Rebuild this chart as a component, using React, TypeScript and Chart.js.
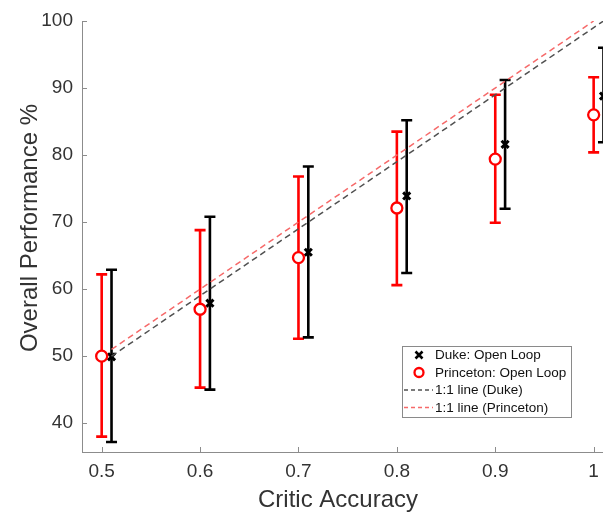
import React, { useEffect, useRef } from "react";
import { Chart, registerables } from "chart.js";

Chart.register(...registerables);

// ---- data ----
const criticAccuracy = [0.5, 0.6, 0.7, 0.8, 0.9, 1.0];
const dukeX = [0.51, 0.61, 0.71, 0.81, 0.91, 1.01];
const dukeMean = [49.9, 57.9, 65.5, 73.9, 81.6, 88.8];
const dukeLow = [37.2, 45.0, 52.8, 62.4, 72.0, 81.9];
const dukeHigh = [62.9, 70.8, 78.3, 85.2, 91.2, 96.0];
const princetonMean = [50.0, 57.0, 64.7, 72.1, 79.4, 86.0];
const princetonLow = [38.0, 45.3, 52.6, 60.6, 69.9, 80.4];
const princetonHigh = [62.2, 68.8, 76.8, 83.5, 89.0, 91.6];
const dukeLineX = [0.51, 1.01];
const dukeLineY = [50, 100];
const princetonLineX = [0.51, 1.0];
const princetonLineY = [51, 100];
const xTicks = [0.5, 0.6, 0.7, 0.8, 0.9, 1.0];
const xTickLabels = ["0.5", "0.6", "0.7", "0.8", "0.9", "1"];
const yTicks = [40, 50, 60, 70, 80, 90, 100];
const xTitle = "Critic Accuracy";
const yTitle = "Overall Performance %";
const legendLabels = [
  "Duke: Open Loop",
  "Princeton: Open Loop",
  "1:1 line (Duke)",
  "1:1 line (Princeton)",
];

const FONT = "'Liberation Sans', Arial, sans-serif";
const AXIS_COLOR = "#8c8c8c";
const TEXT_COLOR = "#333333";
const RED = "#ff0000";
const RED_DASH = "#f66a6a";
const BLACK_DASH = "#505050";

const pairs = (xs: number[], ys: number[]) => xs.map((x, i) => ({ x, y: ys[i] }));

const errorBarPlugin = {
  id: "errorBars",
  beforeDatasetsDraw(chart: any) {
    const { ctx, scales } = chart;
    const xs = scales.x;
    const ys = scales.y;
    const groups = [
      { x: criticAccuracy, lo: princetonLow, hi: princetonHigh, color: RED },
      { x: dukeX, lo: dukeLow, hi: dukeHigh, color: "#000000" },
    ];
    ctx.save();
    for (const g of groups) {
      ctx.strokeStyle = g.color;
      ctx.lineWidth = 2.6;
      for (let i = 0; i < g.x.length; i++) {
        const px = xs.getPixelForValue(g.x[i]);
        const yl = ys.getPixelForValue(g.lo[i]);
        const yh = ys.getPixelForValue(g.hi[i]);
        ctx.beginPath();
        ctx.moveTo(px, yh);
        ctx.lineTo(px, yl);
        ctx.moveTo(px - 5.5, yh);
        ctx.lineTo(px + 5.5, yh);
        ctx.moveTo(px - 5.5, yl);
        ctx.lineTo(px + 5.5, yl);
        ctx.stroke();
      }
    }
    ctx.restore();
  },
};

const decorPlugin = {
  id: "decor",
  afterDraw(chart: any) {
    const { ctx, scales, chartArea } = chart;
    const xs = scales.x;
    const ys = scales.y;
    ctx.save();
    // inward tick marks
    ctx.strokeStyle = AXIS_COLOR;
    ctx.lineWidth = 1;
    ctx.beginPath();
    for (const v of yTicks) {
      const py = Math.round(ys.getPixelForValue(v)) + 0.5;
      ctx.moveTo(chartArea.left, py);
      ctx.lineTo(chartArea.left + 5, py);
    }
    for (const v of xTicks) {
      const px = Math.round(xs.getPixelForValue(v)) + 0.5;
      ctx.moveTo(px, chartArea.bottom);
      ctx.lineTo(px, chartArea.bottom - 5);
    }
    ctx.stroke();

    // axis titles
    ctx.fillStyle = TEXT_COLOR;
    ctx.font = `24px ${FONT}`;
    ctx.textAlign = "center";
    ctx.textBaseline = "middle";
    ctx.fillText(xTitle, 338, 500);
    ctx.save();
    ctx.translate(30, 228);
    ctx.rotate(-Math.PI / 2);
    ctx.fillText(yTitle, 0, 0);
    ctx.restore();

    // legend box
    const bx = 402, by = 346, bw = 169, bh = 71;
    ctx.fillStyle = "#ffffff";
    ctx.fillRect(bx, by, bw, bh);
    ctx.strokeStyle = "#8a8a8a";
    ctx.lineWidth = 1;
    ctx.strokeRect(bx + 0.5, by + 0.5, bw, bh);
    const rowY = [355, 372.5, 390, 407.5];
    ctx.font = `13.5px ${FONT}`;
    ctx.textAlign = "left";
    ctx.textBaseline = "middle";
    // row 1: x marker
    ctx.strokeStyle = "#000";
    ctx.lineWidth = 2.6;
    ctx.beginPath();
    ctx.moveTo(415.5, rowY[0] - 3.5);
    ctx.lineTo(422.5, rowY[0] + 3.5);
    ctx.moveTo(422.5, rowY[0] - 3.5);
    ctx.lineTo(415.5, rowY[0] + 3.5);
    ctx.stroke();
    // row 2: circle
    ctx.strokeStyle = RED;
    ctx.lineWidth = 2.3;
    ctx.beginPath();
    ctx.arc(419, rowY[1], 4.5, 0, Math.PI * 2);
    ctx.stroke();
    // rows 3,4 dashed lines
    ctx.lineWidth = 1.4;
    ctx.setLineDash([4, 3]);
    ctx.strokeStyle = BLACK_DASH;
    ctx.beginPath();
    ctx.moveTo(404, rowY[2]);
    ctx.lineTo(433, rowY[2]);
    ctx.stroke();
    ctx.strokeStyle = RED_DASH;
    ctx.beginPath();
    ctx.moveTo(404, rowY[3]);
    ctx.lineTo(433, rowY[3]);
    ctx.stroke();
    ctx.setLineDash([]);
    ctx.fillStyle = "#111";
    legendLabels.forEach((t, i) => ctx.fillText(t, 435, rowY[i] + 0.5));
    ctx.restore();
  },
};

export default function App() {
  const canvasRef = useRef<HTMLCanvasElement | null>(null);

  useEffect(() => {
    const canvas = canvasRef.current;
    if (!canvas) return;
    const chart = new Chart(canvas, {
      type: "scatter",
      data: {
        datasets: [
          {
            type: "line",
            label: legendLabels[2],
            data: pairs(dukeLineX, dukeLineY),
            borderColor: BLACK_DASH,
            borderWidth: 1.5,
            borderDash: [6, 4],
            pointRadius: 0,
            fill: false,
          },
          {
            type: "line",
            label: legendLabels[3],
            data: pairs(princetonLineX, princetonLineY),
            borderColor: RED_DASH,
            borderWidth: 1.5,
            borderDash: [6, 4],
            pointRadius: 0,
            fill: false,
          },
          {
            label: legendLabels[1],
            data: pairs(criticAccuracy, princetonMean),
            pointStyle: "circle",
            pointRadius: 5.5,
            borderWidth: 2.3,
            borderColor: RED,
            backgroundColor: "#ffffff",
            clip: false,
          },
          {
            label: legendLabels[0],
            data: pairs(dukeX, dukeMean),
            pointStyle: "crossRot",
            pointRadius: 5,
            borderWidth: 3,
            borderColor: "#000000",
            backgroundColor: "#000000",
            clip: false,
          },
        ],
      },
      options: {
        responsive: true,
        maintainAspectRatio: false,
        animation: false,
        layout: { autoPadding: false, padding: { top: 21, left: 0, right: 0, bottom: 0 } },
        plugins: {
          legend: { display: false },
          tooltip: { enabled: false },
        },
        scales: {
          x: {
            type: "linear",
            min: 0.48,
            max: 1.0095,
            afterBuildTicks: (s: any) => {
              s.ticks = xTicks.map((v) => ({ value: v }));
            },
            afterFit: (s: any) => {
              s.height = 67;
              s.paddingLeft = 0;
              s.paddingRight = 0;
            },
            grid: { display: false, drawTicks: false },
            border: { display: true, color: AXIS_COLOR, width: 1 },
            ticks: {
              padding: 8,
              color: TEXT_COLOR,
              font: { family: FONT, size: 19 },
              maxRotation: 0,
              autoSkip: false,
              callback: (v: any) => {
                const i = xTicks.findIndex((t) => Math.abs(t - Number(v)) < 1e-6);
                return i >= 0 ? xTickLabels[i] : "";
              },
            },
          },
          y: {
            type: "linear",
            min: 35.7,
            max: 100,
            afterBuildTicks: (s: any) => {
              s.ticks = yTicks.map((v) => ({ value: v }));
            },
            afterFit: (s: any) => {
              s.width = 82;
              s.paddingTop = 0;
              s.paddingBottom = 0;
            },
            grid: { display: false, drawTicks: false },
            border: { display: true, color: AXIS_COLOR, width: 1 },
            ticks: {
              padding: 9,
              color: TEXT_COLOR,
              font: { family: FONT, size: 19 },
              autoSkip: false,
              callback: (v: any) => String(v),
            },
          },
        },
      },
      plugins: [errorBarPlugin, decorPlugin],
    } as any);
    return () => chart.destroy();
  }, []);

  return (
    <div
      style={{
        position: "fixed",
        left: 0,
        top: 0,
        width: 603,
        height: 519,
        background: "#ffffff",
      }}
    >
      <canvas ref={canvasRef} />
    </div>
  );
}
